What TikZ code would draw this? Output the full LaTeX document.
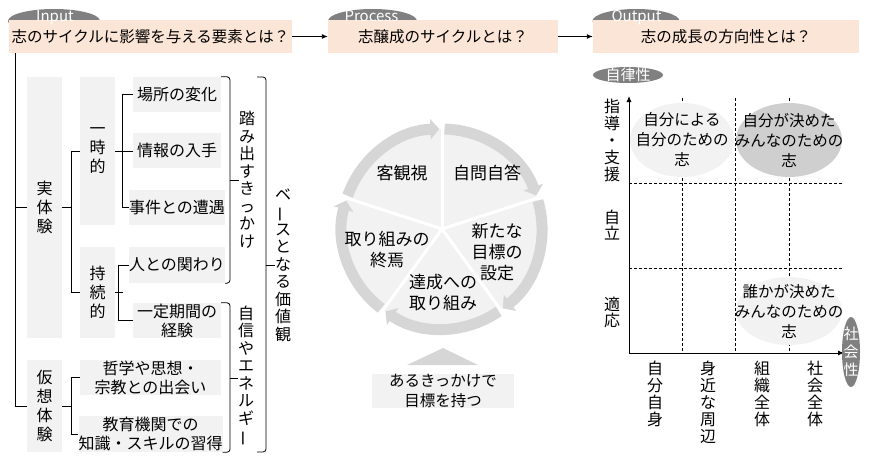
\documentclass[tikz,border=0pt]{standalone}
\usepackage{fontspec}
\setmainfont{Noto Sans CJK JP}
\usepackage{graphicx}
\usetikzlibrary{shapes.geometric,arrows.meta,calc}
\definecolor{peach}{HTML}{FBE5D6}
\definecolor{lg}{HTML}{F2F2F2}
\definecolor{mg}{HTML}{D6D6D6}
\definecolor{dg}{HTML}{CFCFCF}
\definecolor{og}{HTML}{808080}
\newcommand\vbar{\rotatebox[origin=c]{90}{ー}}
\begin{document}
\begin{tikzpicture}[x=1pt,y=-1pt,
  hdr/.style={fill=peach, minimum height=33pt, inner sep=0pt, font=\fontsize{15.5}{18}\selectfont},
  tag/.style={ellipse, fill=og, inner sep=0pt},
  tagtxt/.style={text=white, font=\fontsize{15}{15}\selectfont, inner sep=0pt},
  gbox/.style={fill=lg, inner sep=0pt, align=center, font=\fontsize{16}{19}\selectfont},
  vt/.style={align=center, inner sep=0pt, font=\fontsize{16}{17.5}\selectfont},
  ctext/.style={align=center, inner sep=0pt, font=\fontsize{17}{21}\selectfont},
  etext/.style={inner sep=0pt, align=center, font=\fontsize{15.5}{20}\selectfont},
  ln/.style={line width=0.8pt},
  arr/.style={line width=0.9pt, -{Latex[length=6pt,width=5pt]}},
  ring/.style={draw=mg, line width=11pt, -{Triangle[width=20pt,length=9pt]}},
  grid/.style={line width=0.8pt, dash pattern=on 3pt off 2pt},
]
\useasboundingbox (0,0) rectangle (870,464);

% ---------- headers ----------
\node[tag, minimum width=92pt, minimum height=24pt] (intag) at (54,21) {};
\node[tag, minimum width=89pt, minimum height=24pt] (proctag) at (372.5,21) {};
\node[tag, minimum width=87pt, minimum height=24pt] (outtag) at (636,21) {};
\node[hdr, minimum width=283pt] (inbox) at (150.5,36.5) {志のサイクルに影響を与える要素とは？};
\node[hdr, minimum width=230pt] (procbox) at (443,36.5) {志醸成のサイクルとは？};
\node[hdr, minimum width=266pt] (outbox) at (726,36.5) {志の成長の方向性とは？};
\node[tagtxt, anchor=base] (intxt) at (55,21) {Input};
\node[tagtxt, anchor=base] (proctxt) at (371.5,21) {Process};
\node[tagtxt, anchor=base] (outtxt) at (636.5,21) {Output};
\draw[arr] (inbox.east) -- (procbox.west);
\draw[arr] (procbox.east) -- (outbox.west);

% ---------- left tree ----------
\node[gbox, minimum width=35pt, minimum height=261pt] (jitsu) at (44.5,207.5) {\fontsize{16}{17.5}\selectfont 実\\体\\験};
\node[gbox, minimum width=35pt, minimum height=92pt] (kaso) at (44.5,406) {\fontsize{16}{18}\selectfont 仮\\想\\体\\験};
\node[gbox, minimum width=35pt, minimum height=148pt] (ichiji) at (97.5,151) {\fontsize{16}{19}\selectfont 一\\時\\的};
\node[gbox, minimum width=35pt, minimum height=91pt] (jizoku) at (97.5,292.5) {\fontsize{16}{19}\selectfont 持\\続\\的};
\node[gbox, minimum width=88pt, minimum height=35pt] (basho) at (177,94.5) {場所の変化};
\node[gbox, minimum width=88pt, minimum height=35pt] (jouhou) at (177,150.5) {情報の入手};
\node[gbox, minimum width=88pt, minimum height=35pt] (jiken) at (177,207.5) {事件との遭遇};
\node[gbox, minimum width=88pt, minimum height=36pt] (hito) at (177,265) {人との関わり};
\node[gbox, minimum width=88pt, minimum height=35pt] (ittei) at (177,320.5) {一定期間の\\経験};
\node[gbox, minimum width=141pt, minimum height=35pt] (tetsu) at (150.5,377.5) {哲学や思想・\\宗教との出会い};
\node[gbox, minimum width=141pt, minimum height=36pt] (kyoiku) at (150.5,434) {教育機関での\\知識・スキルの習得};

\coordinate (trunk) at ([xshift=7pt]inbox.south west);
\draw[ln] (trunk) |- (kaso.west);
\draw[ln] (trunk |- jitsu.west) -- (jitsu.west);
\draw[ln] (jitsu.east) -- ++(10,0);
\draw[ln] (ichiji.west) -- ++(-8,0) |- (jizoku.west);
\draw[ln] (kaso.east) -- ++(10,0);
\draw[ln] (tetsu.west) -- ++(-8,0) |- (kyoiku.west);
\draw[ln] (basho.west) -- ++(-10,0) |- (jiken.west);
\draw[ln] (ichiji.east) -- (ichiji.east -| jouhou.west);
\draw[ln] (hito.west) -- ++(-10,0) |- (ittei.west);
\draw[ln] (jizoku.east) -- ++(8,0);

% brackets
\node[vt] (fumi) at (247,180) {踏\\み\\出\\す\\き\\っ\\か\\け};
\node[vt] (jishin) at (246,376) {自\\信\\や\\エ\\ネ\\ル\\ギ\\\vbar};
\node[vt] (base) at (283,265) {ベ\\\vbar\\ス\\と\\な\\る\\価\\値\\観};
\coordinate (m1) at (230,180);
\coordinate (m2) at (230,378);
\coordinate (m3) at (266,265);
\coordinate (b3t) at (257,77);
\coordinate (b3b) at (257,452);
\draw[ln, rounded corners=3pt] (basho.north east) -| (m1) |- (hito.south east);
\draw[ln, rounded corners=3pt] (ittei.north east) -| (m2) |- (kyoiku.south east);
\draw[ln, rounded corners=3pt] (b3t) -| (m3) |- (b3b);
\draw[ln] (m1) -- (m1 -| fumi.west);
\draw[ln] (m2) -- (m2 -| jishin.west);
\draw[ln] (m3) -- (m3 -| base.west);

% ---------- cycle ----------
\begin{scope}[shift={(442,229)}]
  \fill[lg] (0,0) circle[radius=100pt];
  \foreach \a in {90,18,-54,-126,162} {
    \draw[ring] (\a-1.5:100pt) arc[start angle=\a-1.5, end angle=\a-70.5, radius=100pt];
  }
  \foreach \a in {90,18,-54,-126,162} {
    \draw[white, line width=3pt] (0,0) -- (\a:112pt);
  }
\end{scope}
\node[ctext] (kyaku) at (402,173) {客観視};
\node[ctext] (jimon) at (487,173) {自問自答};
\node[ctext] (arata) at (497,252) {新たな\\目標の\\設定};
\node[ctext] (tassei) at (443,293) {達成への\\取り組み};
\node[ctext] (shuen) at (387,250) {取り組みの\\終焉};

\node[fill=lg, minimum width=142pt, minimum height=34pt, inner sep=0pt, align=center,
      font=\fontsize{15.5}{20}\selectfont] (start) at (443,391) {あるきっかけで\\目標を持つ};
\fill[mg] (443,348) -- (478,365) -- (407,365) -- cycle;

% ---------- right chart ----------
\coordinate (O) at (629,353);
\coordinate (ytop) at (629,96);
\coordinate (xend) at (844,353);
\foreach \x in {682,735,789} \draw[grid] (\x,98) -- (\x,353);
\foreach \y in {183,268} \draw[grid] (629,\y) -- (843,\y);
\draw[arr] (O) -- (ytop);
\draw[arr] (O) -- (xend);

\node[ellipse, fill=lg, inner sep=0pt, minimum width=104pt, minimum height=74pt] (e1) at (682,140) {};
\node[ellipse, fill=dg, inner sep=0pt, minimum width=106pt, minimum height=74pt] (e2) at (789,140) {};
\node[ellipse, fill=lg, inner sep=0pt, minimum width=106pt, minimum height=68pt] (e3) at (789,311) {};
\node[etext] (t1) at (e1) {自分による\\自分のための\\志};
\node[etext] (t2) at (e2) {自分が決めた\\みんなのための\\志};
\node[etext] (t3) at (e3) {誰かが決めた\\みんなのための\\志};

\node[tag, minimum width=70pt, minimum height=16pt] (jiritsu) at (628,75) {};
\node[tagtxt, font=\fontsize{15}{15}\selectfont] at (jiritsu) {自律性};
\node[tag, minimum width=18pt, minimum height=70pt] (shakai) at (851,352) {};
\node[tagtxt, align=center, font=\fontsize{15}{18}\selectfont] at (shakai) {社\\会\\性};

\node[vt, font=\fontsize{16}{17}\selectfont] (y1) at (612,140) {指\\導\\・\\支\\援};
\node[vt, font=\fontsize{16}{16}\selectfont] (y2) at (612,225) {自\\立};
\node[vt, font=\fontsize{16}{16}\selectfont] (y3) at (612,312) {適\\応};
\node[vt, anchor=north, font=\fontsize{16}{17}\selectfont] (x1) at (655,361) {自\\分\\自\\身};
\node[vt, anchor=north, font=\fontsize{16}{17}\selectfont] (x2) at (708,361) {身\\近\\な\\周\\辺};
\node[vt, anchor=north, font=\fontsize{16}{17}\selectfont] (x3) at (762,361) {組\\織\\全\\体};
\node[vt, anchor=north, font=\fontsize{16}{17}\selectfont] (x4) at (815,361) {社\\会\\全\\体};
\end{tikzpicture}
\end{document}
